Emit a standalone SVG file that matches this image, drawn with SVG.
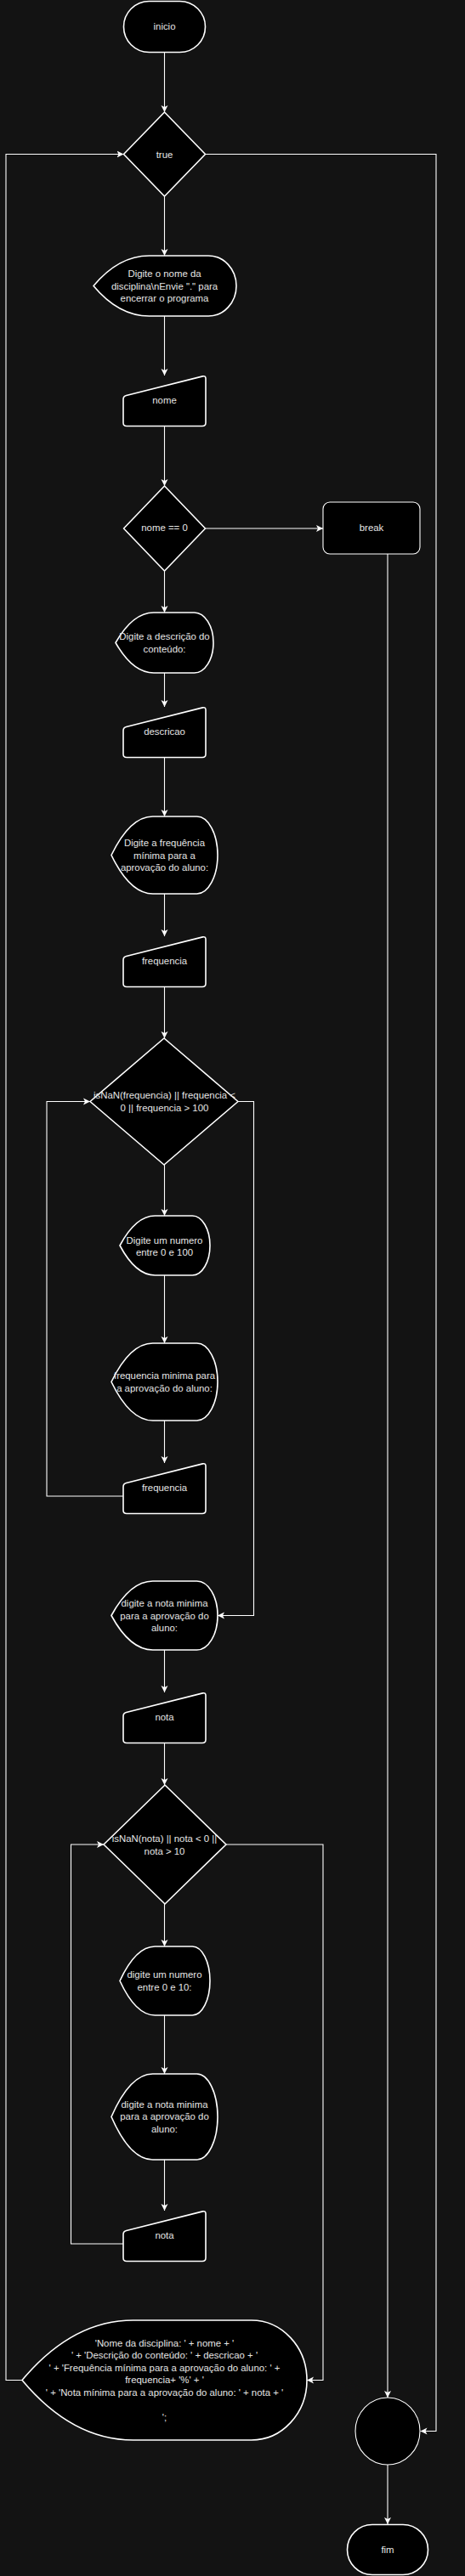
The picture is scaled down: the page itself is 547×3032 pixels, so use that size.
<svg xmlns="http://www.w3.org/2000/svg" xmlns:xlink="http://www.w3.org/1999/xlink" width="547" height="3032" viewBox="0 0 547 3032">
<style>
.bg{fill:#131313}
.s{fill:#000;stroke:#fff;stroke-width:1.6;stroke-linejoin:round}
.thin{fill:#000;stroke:#fff;stroke-width:1.1}
.t{font-family:"Liberation Sans",Arial,sans-serif;font-size:11.4px;fill:#e6e6e6;text-anchor:middle;dominant-baseline:central}
.c{fill:none;stroke:#fff;stroke-width:1.1}
</style>
<defs>
<marker id="ar" markerUnits="userSpaceOnUse" markerWidth="10" markerHeight="10" refX="8" refY="4" orient="auto" viewBox="0 0 10 8">
<path d="M0,0 L8,4 L0,8 L2,4 Z" fill="#fff"/>
</marker>
<path id="mi" class="s" d="M145,28 Q145,24.4 148.6,23.5 L238.4,0.9 Q242,0 242,3.6 L242,55.5 Q242,59.5 238,59.5 L149,59.5 Q145,59.5 145,55.5 Z"/>
</defs>
<rect class="bg" x="0" y="0" width="547" height="3032"/>

<g id="connectors">
<path class="c" marker-end="url(#ar)" d="M193.5,62 V132"/>
<path class="c" marker-end="url(#ar)" d="M193.5,231 V301"/>
<path class="c" marker-end="url(#ar)" d="M241.5,181.5 H513 V2861.5 H494.5"/>
<path class="c" marker-end="url(#ar)" d="M193.5,372 V442"/>
<path class="c" marker-end="url(#ar)" d="M193.5,501 V572"/>
<path class="c" marker-end="url(#ar)" d="M241.5,622 H380"/>
<path class="c" marker-end="url(#ar)" d="M456,652 V2822"/>
<path class="c" marker-end="url(#ar)" d="M193.5,672 V721"/>
<path class="c" marker-end="url(#ar)" d="M193.5,792 V832"/>
<path class="c" marker-end="url(#ar)" d="M193.5,892 V961"/>
<path class="c" marker-end="url(#ar)" d="M193.5,1052 V1102"/>
<path class="c" marker-end="url(#ar)" d="M193.5,1162 V1222"/>
<path class="c" marker-end="url(#ar)" d="M193.5,1371 V1431"/>
<path class="c" marker-end="url(#ar)" d="M193.5,1501 V1581"/>
<path class="c" marker-end="url(#ar)" d="M193.5,1672 V1722"/>
<path class="c" marker-end="url(#ar)" d="M145,1761 H55 V1296.5 H106"/>
<path class="c" marker-end="url(#ar)" d="M280,1296.5 H298.5 V1901.5 H256"/>
<path class="c" marker-end="url(#ar)" d="M193.5,1942 V1992"/>
<path class="c" marker-end="url(#ar)" d="M193.5,2052 V2101"/>
<path class="c" marker-end="url(#ar)" d="M266,2171 H380 V2801.5 H361"/>
<path class="c" marker-end="url(#ar)" d="M193.5,2241 V2291"/>
<path class="c" marker-end="url(#ar)" d="M193.5,2372 V2441"/>
<path class="c" marker-end="url(#ar)" d="M193.5,2542 V2602"/>
<path class="c" marker-end="url(#ar)" d="M145,2641 H83.5 V2171 H122"/>
<path class="c" marker-end="url(#ar)" d="M26,2801.5 H7 V181.5 H145.5"/>
<path class="c" marker-end="url(#ar)" d="M456,2901 V2971"/>
</g>

<g id="inicio">
<rect class="s" x="145.5" y="1.5" width="96" height="60" rx="30"/>
<text class="t" x="193.5" y="31">inicio</text>
</g>

<g id="cond-true">
<path class="s" d="M193.5,132 L241.5,181.5 L193.5,231 L145.5,181.5 Z"/>
<text class="t" x="193.5" y="181.5">true</text>
</g>

<g id="out-nome">
<path class="s" d="M110,336.5 Q139.6,301 175.5,301 L245.2,301 A32.8,35.5 0 0 1 245.2,372 L175.5,372 Q139.6,372 110,336.5 Z"/>
<text class="t" x="193.5" y="322">Digite o nome da</text>
<text class="t" x="193.5" y="336.5">disciplina\nEnvie "." para</text>
<text class="t" x="193.5" y="351">encerrar o programa</text>
</g>

<g id="in-nome">
<use xlink:href="#mi" y="442"/>
<text class="t" x="193.5" y="471">nome</text>
</g>

<g id="cond-nome">
<path class="s" d="M193.5,572 L241.5,622 L193.5,672 L145.5,622 Z"/>
<text class="t" x="193.5" y="621">nome == 0</text>
</g>

<g id="break">
<rect class="thin" x="380" y="591" width="114" height="61" rx="8"/>
<text class="t" x="437" y="621">break</text>
</g>

<g id="out-descricao">
<path class="s" d="M136,756.5 Q156.2,721 180.9,721 L228.6,721 A22.4,35.5 0 0 1 228.6,792 L180.9,792 Q156.2,792 136,756.5 Z"/>
<text class="t" x="193.5" y="748.5">Digite a descrição do</text>
<text class="t" x="193.5" y="764">conteúdo:</text>
</g>

<g id="in-descricao">
<use xlink:href="#mi" y="832"/>
<text class="t" x="193.5" y="861">descricao</text>
</g>

<g id="out-frequencia">
<path class="s" d="M131,1006.5 Q153,961 179.75,961 L231.6,961 A24.4,45.5 0 0 1 231.6,1052 L179.75,1052 Q153,1052 131,1006.5 Z"/>
<text class="t" x="193.5" y="992">Digite a frequência</text>
<text class="t" x="193.5" y="1006.5">mínima para a</text>
<text class="t" x="193.5" y="1021">aprovação do aluno:</text>
</g>

<g id="in-frequencia">
<use xlink:href="#mi" y="1102"/>
<text class="t" x="193.5" y="1131">frequencia</text>
</g>

<g id="cond-frequencia">
<path class="s" d="M193,1222 L280,1296.5 L193,1371 L106,1296.5 Z"/>
<text class="t" x="193.5" y="1289">isNaN(frequencia) || frequencia &lt;</text>
<text class="t" x="193.5" y="1303.5">0 || frequencia &gt; 100</text>
</g>

<g id="out-numero-100">
<path class="s" d="M141,1466 Q159.7,1431 182.3,1431 L226.3,1431 A20.7,35 0 0 1 226.3,1501 L182.3,1501 Q159.7,1501 141,1466 Z"/>
<text class="t" x="193.5" y="1459.5">Digite um numero</text>
<text class="t" x="193.5" y="1474">entre 0 e 100</text>
</g>

<g id="out-frequencia-2">
<path class="s" d="M131,1626.5 Q153,1581 179.75,1581 L231.6,1581 A24.4,45.5 0 0 1 231.6,1672 L179.75,1672 Q153,1672 131,1626.5 Z"/>
<text class="t" x="193.5" y="1619">frequencia minima para</text>
<text class="t" x="193.5" y="1634">a aprovação do aluno:</text>
</g>

<g id="in-frequencia-2">
<use xlink:href="#mi" y="1722"/>
<text class="t" x="193.5" y="1751">frequencia</text>
</g>

<g id="out-nota">
<path class="s" d="M131,1901.5 Q153,1861 179.75,1861 L231.6,1861 A24.4,40.5 0 0 1 231.6,1942 L179.75,1942 Q153,1942 131,1901.5 Z"/>
<text class="t" x="193.5" y="1887">digite a nota minima</text>
<text class="t" x="193.5" y="1901.5">para a aprovação do</text>
<text class="t" x="193.5" y="1916">aluno:</text>
</g>

<g id="in-nota">
<use xlink:href="#mi" y="1992"/>
<text class="t" x="193.5" y="2021">nota</text>
</g>

<g id="cond-nota">
<path class="s" d="M194,2101 L266,2171 L194,2241 L122,2171 Z"/>
<text class="t" x="193.5" y="2164">isNaN(nota) || nota &lt; 0 ||</text>
<text class="t" x="193.5" y="2179">nota &gt; 10</text>
</g>

<g id="out-numero-10">
<path class="s" d="M141,2331.5 Q159.7,2291 182.3,2291 L226.3,2291 A20.7,40.5 0 0 1 226.3,2372 L182.3,2372 Q159.7,2372 141,2331.5 Z"/>
<text class="t" x="193.5" y="2324">digite um numero</text>
<text class="t" x="193.5" y="2339">entre 0 e 10:</text>
</g>

<g id="out-nota-2">
<path class="s" d="M131,2491.5 Q153,2441 179.75,2441 L231.6,2441 A24.4,50.5 0 0 1 231.6,2542 L179.75,2542 Q153,2542 131,2491.5 Z"/>
<text class="t" x="193.5" y="2477">digite a nota minima</text>
<text class="t" x="193.5" y="2491">para a aprovação do</text>
<text class="t" x="193.5" y="2506">aluno:</text>
</g>

<g id="in-nota-2">
<use xlink:href="#mi" y="2602"/>
<text class="t" x="193.5" y="2631">nota</text>
</g>

<g id="out-resumo">
<path class="s" d="M26,2801.5 Q85,2731 156.65,2731 L295.7,2731 A65.3,70.5 0 0 1 295.7,2872 L156.65,2872 Q85,2872 26,2801.5 Z"/>
<text class="t" x="193.5" y="2758">'Nome da disciplina: ' + nome + '</text>
<text class="t" x="193.5" y="2772">' + 'Descrição do conteúdo: ' + descricao + '</text>
<text class="t" x="193.5" y="2786.5">' + 'Frequência mínima para a aprovação do aluno: ' +</text>
<text class="t" x="193.5" y="2801">frequencia+ '%' + '</text>
<text class="t" x="193.5" y="2815.5">' + 'Nota mínima para a aprovação do aluno: ' + nota + '</text>
<text class="t" x="193.5" y="2844.5">';</text>
</g>

<g id="juncao">
<ellipse class="thin" cx="456" cy="2861.5" rx="38" ry="39.5"/>
</g>

<g id="fim">
<rect class="s" x="408.5" y="2971.5" width="95" height="59" rx="29.5"/>
<text class="t" x="456" y="3001">fim</text>
</g>
</svg>
